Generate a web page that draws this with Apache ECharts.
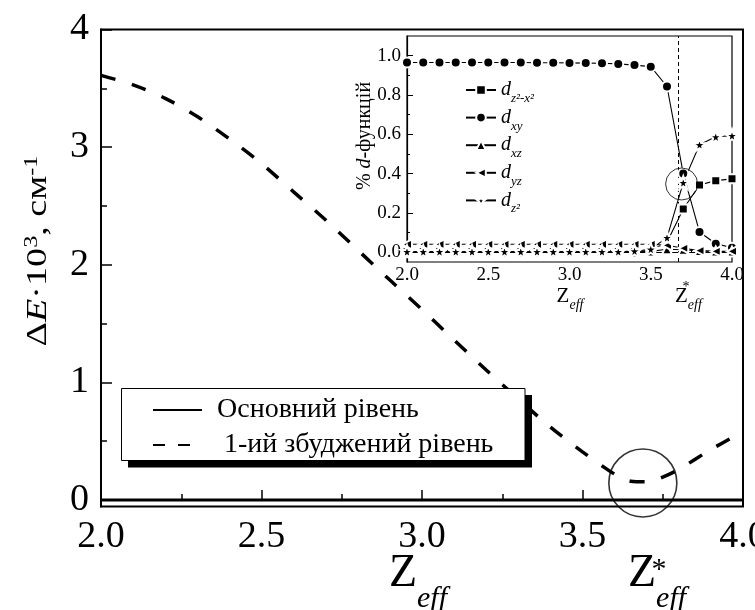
<!DOCTYPE html>
<html>
<head>
<meta charset="utf-8">
<script src="https://cdn.jsdelivr.net/npm/echarts@6/dist/echarts.min.js"></script>
<style>
  html, body { margin: 0; padding: 0; background: #fff; }
  #chart { width: 755px; height: 610px; }
</style>
</head>
<body>
<div id="chart"></div>
<script>
// ---- main panel: splitting of the two lowest levels vs Z_eff ----
const zMain = [2.0, 2.1, 2.2, 2.3, 2.4, 2.5, 2.6, 2.7, 2.8, 2.9, 3.0, 3.1, 3.2, 3.3, 3.4, 3.5, 3.6, 3.65, 3.7, 3.75, 3.8, 3.9, 4.0];
const excitedLevel = [3.61, 3.53, 3.415, 3.26, 3.07, 2.86, 2.62, 2.38, 2.125, 1.87, 1.62, 1.36, 1.105, 0.86, 0.62, 0.41, 0.22, 0.16, 0.155, 0.195, 0.26, 0.43, 0.58];
const groundZ = [2.0, 4.0];
const groundLevel = [0, 0];
const mainYTicks = [0, 1, 2, 3, 4];
const mainYMinor = [0.5, 1.5, 2.5, 3.5];
const levelNames = ['Основний рівень', '1-ий збуджений рівень'];

// Z*_eff and the highlighted minimum
const zStar = 3.675;
const mainMarker = [3.688, 0.145];

// ---- inset: weights of the d-functions ----
const zInset = [2.0, 2.1, 2.2, 2.3, 2.4, 2.5, 2.6, 2.7, 2.8, 2.9, 3.0, 3.1, 3.2, 3.3, 3.4, 3.5, 3.6, 3.7, 3.8, 3.9, 4.0];
const dZ2X2 = [0.002, 0.002, 0.002, 0.002, 0.002, 0.002, 0.002, 0.002, 0.002, 0.002, 0.002, 0.002, 0.002, 0.002, 0.004, 0.008, 0.05, 0.22, 0.342, 0.364, 0.373];
const dXY = [0.965, 0.965, 0.965, 0.965, 0.965, 0.965, 0.965, 0.965, 0.964, 0.964, 0.963, 0.962, 0.961, 0.958, 0.952, 0.944, 0.843, 0.40, 0.103, 0.043, 0.023];
const dXZ = [0.0, 0.0, 0.0, 0.0, 0.0, 0.0, 0.0, 0.0, 0.0, 0.0, 0.0, 0.0, 0.0, 0.0, 0.0, 0.004, 0.015, 0.012, 0.006, 0.004, 0.003];
const dYZ = [0.04, 0.04, 0.04, 0.04, 0.04, 0.04, 0.04, 0.04, 0.04, 0.04, 0.04, 0.04, 0.04, 0.04, 0.04, 0.04, 0.035, 0.02, 0.008, 0.004, 0.004];
const dZ2 = [0.003, 0.003, 0.003, 0.003, 0.003, 0.003, 0.003, 0.003, 0.003, 0.003, 0.003, 0.003, 0.003, 0.003, 0.006, 0.015, 0.074, 0.354, 0.547, 0.587, 0.593];
const orbitalSubs = ['z²-x²', 'xy', 'xz', 'yz', 'z²'];
const insetYTicks = [0, 0.2, 0.4, 0.6, 0.8, 1.0];
const insetYMinor = [0.1, 0.3, 0.5, 0.7, 0.9];
const insetMarker = [3.69, 0.347];

const SERIF = '"Liberation Serif", "Times New Roman", serif';
const BLACK = '#000';
const STAR = 'path://M0,-10L2.35,-3.24L9.51,-3.09L3.8,1.24L5.88,8.09L0,4L-5.88,8.09L-3.8,1.24L-9.51,-3.09L-2.35,-3.24Z';

const pairs = (xs, ys) => xs.map((x, i) => [x, ys[i]]);
const orbitalNames = orbitalSubs.map(s => 'd' + s);
const orbitalData = [dZ2X2, dXY, dXZ, dYZ, dZ2];
const orbitalSymbols = [
  { symbol: 'rect', size: 9, rotate: 0 },
  { symbol: 'circle', size: 10, rotate: 0 },
  { symbol: 'triangle', size: 10, rotate: 0 },
  { symbol: 'triangle', size: 10, rotate: 90 },
  { symbol: STAR, size: 13, rotate: 0 }
];

const chart = echarts.init(document.getElementById('chart'), null, { renderer: 'canvas' });

const tickLine = w => ({ color: BLACK, width: w });

const insetSeries = orbitalNames.map((name, k) => ({
  name: name,
  type: 'line',
  xAxisIndex: 1,
  yAxisIndex: 2,
  data: pairs(zInset, orbitalData[k]),
  symbol: orbitalSymbols[k].symbol,
  symbolSize: orbitalSymbols[k].size,
  symbolRotate: orbitalSymbols[k].rotate,
  showSymbol: true,
  lineStyle: { color: BLACK, width: 1.1 },
  itemStyle: { color: BLACK, borderColor: '#fff', borderWidth: 2 },
  z: 6,
  markLine: k === 1 ? {
    silent: true,
    symbol: 'none',
    label: { show: false },
    lineStyle: { color: BLACK, width: 1, type: [4, 3] },
    data: [{ xAxis: zStar }]
  } : undefined
}));

// rich styles for "Z" with subscript "eff"
const zeffRich = (big, small, drop) => ({
  z: { fontFamily: SERIF, fontSize: big, lineHeight: big, verticalAlign: 'top', fill: BLACK },
  e: { fontFamily: SERIF, fontStyle: 'italic', fontSize: small, lineHeight: small, padding: [drop, 0, 0, 0], verticalAlign: 'top', fill: BLACK }
});

const option = {
  animation: false,
  backgroundColor: '#fff',
  textStyle: { fontFamily: SERIF },
  grid: [
    { left: 101, right: 12, top: 29.5, bottom: 103.5, outerBoundsMode: 'none', containLabel: false, show: true, borderColor: BLACK, borderWidth: 2, backgroundColor: 'transparent' },
    { left: 407, right: 23, top: 36, bottom: 348, outerBoundsMode: 'none', containLabel: false, show: true, borderColor: BLACK, borderWidth: 1.2, backgroundColor: 'transparent' }
  ],
  xAxis: [
    {
      gridIndex: 0, type: 'value', min: 2, max: 4, interval: 0.5,
      axisLine: { lineStyle: tickLine(2) },
      axisTick: { inside: true, length: 10, lineStyle: tickLine(1.5) },
      minorTick: { show: true, splitNumber: 2, length: 6, lineStyle: tickLine(1.5) },
      splitLine: { show: false },
      axisLabel: { color: BLACK, fontFamily: SERIF, fontSize: 38, margin: 12, formatter: v => v.toFixed(1) }
    },
    {
      gridIndex: 1, type: 'value', min: 2, max: 4, interval: 0.5,
      axisLine: { lineStyle: tickLine(1.2) },
      axisTick: { inside: true, length: 6, lineStyle: tickLine(1) },
      minorTick: { show: true, splitNumber: 2, length: 3, lineStyle: tickLine(1) },
      splitLine: { show: false },
      axisLabel: { color: BLACK, fontFamily: SERIF, fontSize: 19, margin: 4, formatter: v => v.toFixed(1) }
    }
  ],
  yAxis: [
    {
      gridIndex: 0, type: 'value', min: -0.055, max: 4, position: 'left',
      axisLine: { lineStyle: tickLine(2) },
      axisTick: { inside: true, length: 11, lineStyle: tickLine(1.5), customValues: mainYTicks },
      splitLine: { show: false },
      axisLabel: { color: BLACK, fontFamily: SERIF, fontSize: 38, margin: 12, customValues: mainYTicks, formatter: v => String(Math.round(v)) }
    },
    {
      gridIndex: 0, type: 'value', min: -0.055, max: 4, position: 'left',
      axisLine: { show: false },
      axisTick: { inside: true, length: 6, lineStyle: tickLine(1.5), customValues: mainYMinor },
      splitLine: { show: false },
      axisLabel: { show: false }
    },
    {
      gridIndex: 1, type: 'value', min: -0.05, max: 1.1, position: 'left',
      axisLine: { lineStyle: tickLine(1.2) },
      axisTick: { inside: true, length: 6, lineStyle: tickLine(1), customValues: insetYTicks },
      splitLine: { show: false },
      axisLabel: { color: BLACK, fontFamily: SERIF, fontSize: 19, margin: 6, customValues: insetYTicks, formatter: v => v.toFixed(1) }
    },
    {
      gridIndex: 1, type: 'value', min: -0.05, max: 1.1, position: 'left',
      axisLine: { show: false },
      axisTick: { inside: true, length: 3, lineStyle: tickLine(1), customValues: insetYMinor },
      splitLine: { show: false },
      axisLabel: { show: false }
    }
  ],
  legend: [
    {
      data: [
        { name: levelNames[0], itemStyle: { opacity: 0 } },
        { name: levelNames[1], itemStyle: { opacity: 0 }, lineStyle: { type: [12, 13] } }
      ],
      orient: 'vertical',
      left: 121, top: 388,
      padding: [7, 28, 0, 31],
      itemWidth: 49, itemHeight: 14, itemGap: 5,
      selectedMode: false,
      z: 10,
      formatter: name => (name === levelNames[1] ? ' ' + name : name),
      textStyle: { color: BLACK, fontFamily: SERIF, fontSize: 28, lineHeight: 30, padding: [0, 0, 0, 10] }
    },
    {
      data: orbitalNames,
      orient: 'vertical',
      left: 465, top: 80,
      padding: 0,
      itemWidth: 30, itemHeight: 12, itemGap: 2.6,
      selectedMode: false,
      formatter: name => '{d|d}{s|' + name.slice(1) + '}',
      textStyle: {
        color: BLACK, fontFamily: SERIF,
        rich: {
          d: { fontFamily: SERIF, fontStyle: 'italic', fontSize: 20, lineHeight: 20, verticalAlign: 'top', color: BLACK },
          s: { fontFamily: SERIF, fontStyle: 'italic', fontSize: 13, lineHeight: 13, padding: [12, 0, 0, 0], verticalAlign: 'top', color: BLACK }
        }
      }
    }
  ],
  series: [
    {
      name: levelNames[0], type: 'line', xAxisIndex: 0, yAxisIndex: 0,
      data: pairs(groundZ, groundLevel),
      symbol: 'none',
      itemStyle: { color: BLACK },
      lineStyle: { color: BLACK, width: 3 },
      z: 2
    },
    {
      name: levelNames[1], type: 'line', xAxisIndex: 0, yAxisIndex: 0,
      data: pairs(zMain, excitedLevel),
      symbol: 'none', smooth: 0.3,
      itemStyle: { color: BLACK },
      lineStyle: { color: BLACK, width: 3.5, type: [15, 17] },
      z: 2
    },
    {
      type: 'scatter', xAxisIndex: 0, yAxisIndex: 0,
      data: [mainMarker], symbol: 'circle', symbolSize: 68, silent: true, clip: false,
      itemStyle: { color: 'rgba(0,0,0,0)', borderColor: BLACK, borderWidth: 1.6 },
      z: 5
    },
    ...insetSeries,
    {
      type: 'scatter', xAxisIndex: 1, yAxisIndex: 2,
      data: [insetMarker], symbol: 'circle', symbolSize: 32, silent: true, clip: false,
      itemStyle: { color: 'rgba(0,0,0,0)', borderColor: BLACK, borderWidth: 1 },
      z: 7
    }
  ],
  graphic: [
    // legend frame with its drop shadow
    {
      type: 'rect', z: 8, silent: true,
      shape: { x: 128, y: 395, width: 404, height: 72.5 },
      style: { fill: BLACK }
    },
    {
      type: 'rect', z: 9, silent: true,
      shape: { x: 121.5, y: 388.5, width: 403.5, height: 72 },
      style: { fill: '#fff', stroke: BLACK, lineWidth: 1 }
    },
    // main y-axis title
    {
      type: 'text', x: 38, y: 251, rotation: Math.PI / 2, scaleX: 1.27, silent: true,
      style: {
        text: '{m|Δ}{mi|E}{m|·10}{sup|3}{m|, см}{sup|-1}',
        align: 'center', verticalAlign: 'middle', fill: BLACK,
        rich: {
          m: { fontFamily: SERIF, fontSize: 30, lineHeight: 30, verticalAlign: 'bottom', fill: BLACK },
          mi: { fontFamily: SERIF, fontStyle: 'italic', fontSize: 30, lineHeight: 30, verticalAlign: 'bottom', fill: BLACK },
          sup: { fontFamily: SERIF, fontSize: 19, lineHeight: 19, padding: [0, 0, 33, 0], verticalAlign: 'top', fill: BLACK }
        }
      }
    },
    // main x-axis titles
    {
      type: 'text', x: 418, y: 551, silent: true,
      style: { text: '{z|Z}{e|eff}', align: 'center', verticalAlign: 'top', fill: BLACK, rich: zeffRich(46, 30, 33) }
    },
    {
      type: 'text', x: 628, y: 551, silent: true,
      style: { text: '{z|Z}{e|eff}', align: 'left', verticalAlign: 'top', fill: BLACK, rich: zeffRich(46, 30, 33) }
    },
    {
      type: 'text', x: 659, y: 570, silent: true,
      style: { text: '*', font: '30px "Liberation Serif"', align: 'center', verticalAlign: 'middle', fill: BLACK }
    },
    // inset titles
    {
      type: 'text', x: 365, y: 136, rotation: Math.PI / 2, silent: true,
      style: {
        text: '{m|% }{i|d}{m|-функцій}', align: 'center', verticalAlign: 'middle', fill: BLACK,
        rich: {
          m: { fontFamily: SERIF, fontSize: 20, fill: BLACK },
          i: { fontFamily: SERIF, fontStyle: 'italic', fontSize: 20, fill: BLACK }
        }
      }
    },
    {
      type: 'text', x: 570, y: 286, silent: true,
      style: { text: '{z|Z}{e|eff}', align: 'center', verticalAlign: 'top', fill: BLACK, rich: zeffRich(21, 14, 12) }
    },
    {
      type: 'text', x: 675, y: 286, silent: true,
      style: { text: '{z|Z}{e|eff}', align: 'left', verticalAlign: 'top', fill: BLACK, rich: zeffRich(21, 14, 12) }
    },
    {
      type: 'text', x: 686, y: 287, silent: true,
      style: { text: '*', font: '14px "Liberation Serif"', align: 'center', verticalAlign: 'middle', fill: BLACK }
    }
  ]
};

chart.setOption(option);
</script>
</body>
</html>
